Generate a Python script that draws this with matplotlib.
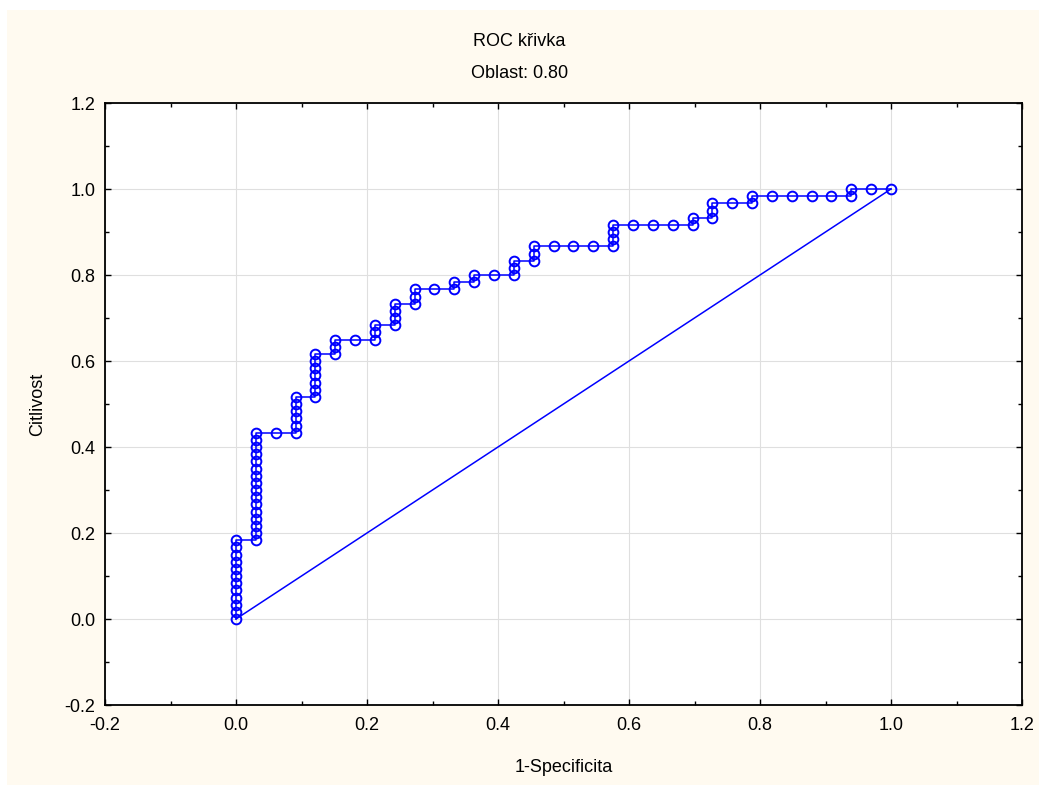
import numpy as np
import matplotlib
matplotlib.use("Agg")
import matplotlib.pyplot as plt
from matplotlib.patches import Rectangle
from matplotlib.ticker import MultipleLocator

plt.rcParams['font.family'] = ['Liberation Sans', 'DejaVu Sans']

# ROC points as counts: false positives (of 33 negatives), true positives (of 60 positives)
n_neg = 33
n_pos = 60
fp_count = [0] * 12 + [1] * 16 + [2, 3, 3, 3, 3, 3, 3,
            4, 4, 4, 4, 4, 4, 4, 5, 5, 5, 6, 7, 7, 7,
            8, 8, 8, 8, 9, 9, 9, 10, 11, 11, 12, 12, 13, 14, 14, 14,
            15, 15, 15, 16, 17, 18, 19, 19, 19, 19, 20, 21, 22, 23, 23,
            24, 24, 24, 25, 26, 26, 27, 28, 29, 30, 31, 31, 32, 33]
tp_count = list(range(0, 12)) + list(range(11, 27)) + [26, 26, 27, 28, 29, 30, 31,
            31, 32, 33, 34, 35, 36, 37, 37, 38, 39, 39, 39, 40, 41,
            41, 42, 43, 44, 44, 45, 46, 46, 46, 47, 47, 48, 48, 48, 49, 50,
            50, 51, 52, 52, 52, 52, 52, 53, 54, 55, 55, 55, 55, 55, 56,
            56, 57, 58, 58, 58, 59, 59, 59, 59, 59, 59, 60, 60, 60]

fpr = np.array(fp_count) / n_neg
tpr = np.array(tp_count) / n_pos

title = "ROC křivka"
subtitle = "Oblast: 0.80"
tick_vals = [-0.2, 0.0, 0.2, 0.4, 0.6, 0.8, 1.0, 1.2]

fig = plt.figure(figsize=(10.39, 7.85), dpi=100)
fig.patch.set_facecolor('white')
# cream panel behind the plot (thin white strip top and left)
fig.patches.append(Rectangle((7 / 1039, 0), 1, 1 - 10 / 785, transform=fig.transFigure,
                             facecolor='#FFFAF0', edgecolor='none', zorder=-10))

ax = fig.add_axes([105 / 1039, 1 - 705 / 785, 917 / 1039, 602 / 785])
ax.set_facecolor('white')

ax.plot([0, 1], [0, 1], color='#0000FF', linewidth=1.1, zorder=3)
ax.plot(fpr, tpr, color='#0000FF', linewidth=1.1, marker='o', markersize=7,
        markerfacecolor='none', markeredgecolor='#0000FF', markeredgewidth=1.4, zorder=4)

ax.set_xlim(-0.2, 1.2)
ax.set_ylim(-0.2, 1.2)
ax.set_xticks(tick_vals)
ax.set_yticks(tick_vals)
ax.set_xticklabels([f"{v:.1f}" for v in tick_vals])
ax.set_yticklabels([f"{v:.1f}" for v in tick_vals])
ax.xaxis.set_minor_locator(MultipleLocator(0.1))
ax.yaxis.set_minor_locator(MultipleLocator(0.1))
ax.tick_params(which='both', direction='in', top=True, right=True, labelsize=13)
ax.tick_params(which='major', length=4, width=1)
ax.tick_params(which='minor', length=3, width=1)
ax.tick_params(axis='x', pad=9)
ax.tick_params(axis='y', pad=7)
ax.grid(True, which='major', color='#DFDFDF', linewidth=0.8, zorder=0)
ax.set_axisbelow(True)
for s in ax.spines.values():
    s.set_linewidth(1.3)

ax.set_xlabel("1-Specificita", fontsize=13, labelpad=18)
ax.set_ylabel("Citlivost", fontsize=13, labelpad=13)

fig.text(0.5, 1 - 41 / 785, title, ha='center', va='center', fontsize=13)
fig.text(0.5, 1 - 73 / 785, subtitle, ha='center', va='center', fontsize=13)

fig.savefig("out.png", dpi=100, facecolor=fig.get_facecolor())
